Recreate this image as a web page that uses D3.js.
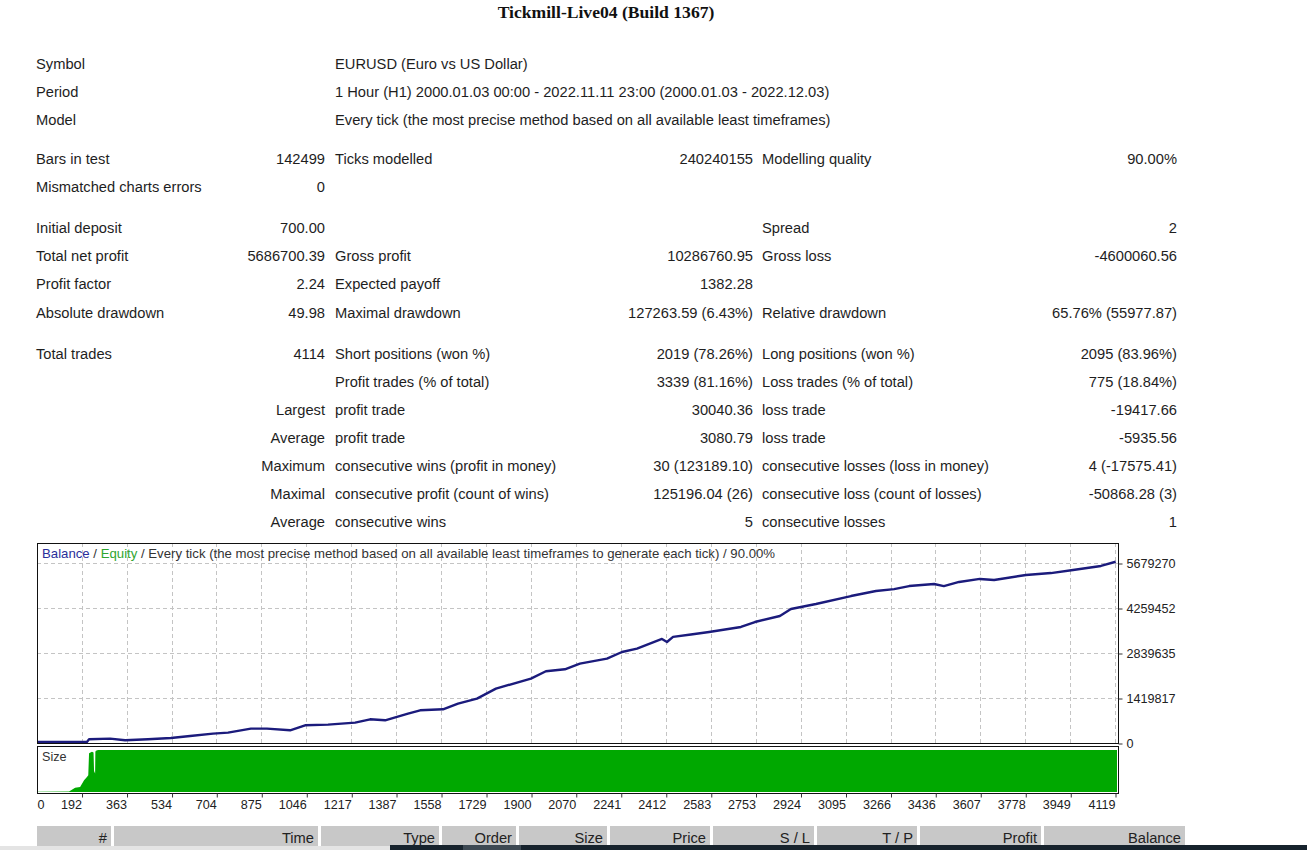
<!DOCTYPE html>
<html>
<head>
<meta charset="utf-8">
<script src="https://cdn.jsdelivr.net/npm/d3@7"></script>
<style>
body{margin:0;background:#ffffff;}
svg{display:block;}
</style>
</head>
<body>
<svg id="svgReport" width="1307" height="850"></svg>
<script>

var tituloReporte="Tickmill-Live04 (Build 1367)";

// filas del reporte: etiqueta, valor, etiqueta, valor, etiqueta, valor
var filasGrupo1=[
    ["Symbol","","EURUSD (Euro vs US Dollar)","","",""],
    ["Period","","1 Hour (H1) 2000.01.03 00:00 - 2022.11.11 23:00 (2000.01.03 - 2022.12.03)","","",""],
    ["Model","","Every tick (the most precise method based on all available least timeframes)","","",""]
];
var filasGrupo2=[
    ["Bars in test","142499","Ticks modelled","240240155","Modelling quality","90.00%"],
    ["Mismatched charts errors","0","","","",""]
];
var filasGrupo3=[
    ["Initial deposit","700.00","","","Spread","2"],
    ["Total net profit","5686700.39","Gross profit","10286760.95","Gross loss","-4600060.56"],
    ["Profit factor","2.24","Expected payoff","1382.28","",""],
    ["Absolute drawdown","49.98","Maximal drawdown","127263.59 (6.43%)","Relative drawdown","65.76% (55977.87)"]
];
var filasGrupo4=[
    ["Total trades","4114","Short positions (won %)","2019 (78.26%)","Long positions (won %)","2095 (83.96%)"],
    ["","","Profit trades (% of total)","3339 (81.16%)","Loss trades (% of total)","775 (18.84%)"],
    ["","Largest","profit trade","30040.36","loss trade","-19417.66"],
    ["","Average","profit trade","3080.79","loss trade","-5935.56"],
    ["","Maximum","consecutive wins (profit in money)","30 (123189.10)","consecutive losses (loss in money)","4 (-17575.41)"],
    ["","Maximal","consecutive profit (count of wins)","125196.04 (26)","consecutive loss (count of losses)","-50868.28 (3)"],
    ["","Average","consecutive wins","5","consecutive losses","1"]
];

// curva de balance (numero de trade, balance)
var balanceTrade=[0,150,205,213,293,350,437,524,597,684,741,828,889,977,1034,1121,1224,1281,1338,1425,1471,1558,1615,1687,1759,1892,1949,2021,2078,2181,2238,2295,2390,2409,2432,2500,2569,2690,2743,2838,2880,2975,3108,3203,3272,3329,3424,3461,3519,3598,3652,3773,3868,3952,4058,4114];
var balanceVal=[700,1500,3000,85000,107000,54000,85000,126000,189000,265000,297000,423000,423000,369000,527000,549000,612000,716000,685000,896000,1000000,1032000,1212000,1369000,1685000,2000000,2231000,2294000,2474000,2631000,2840000,2947000,3250000,3155000,3315000,3390000,3470000,3630000,3785000,3975000,4195000,4355000,4605000,4765000,4825000,4920000,4985000,4920000,5050000,5145000,5110000,5270000,5330000,5425000,5555000,5687400];

// tamanio de lote (numero de trade, lotes)
var sizeTrade=[0,137,160,179,194,205,210,213,224,230,232,236,237,239,247,4119];
var sizeLots=[0.3,0.6,5,6,14,18,20,46,48,47,25,22,48,49,50,50];

var ejeXTicks=[0,192,363,534,704,875,1046,1217,1387,1558,1729,1900,2070,2241,2412,2583,2753,2924,3095,3266,3436,3607,3778,3949,4119];
var ejeYTicks=[0,1419817,2839635,4259452,5679270];

var tituloGrafica=[
    {t:"Balance",c:"#2a2f9a"},
    {t:" / ",c:"#333333"},
    {t:"Equity",c:"#2fa52f"},
    {t:" / Every tick (the most precise method based on all available least timeframes to generate each tick) / 90.00%",c:"#333333"}
];

var columnasTabla=["#","Time","Type","Order","Size","Price","S / L","T / P","Profit","Balance"];
var anchoColumnas=[74,204,118,74,88,100,101,100,121,141];

var svg=d3.select("#svgReport");
var fuente="'Liberation Sans', Arial, sans-serif";
var tamanioFuente=14.7;

// titulo
svg.append("text")
    .attr("x",606)
    .attr("y",18)
    .style("font-family","'Liberation Serif', 'Times New Roman', serif")
    .style("font-weight","bold")
    .style("font-size","17.6px")
    .style("fill","#111111")
    .style("text-anchor","middle")
    .text(tituloReporte);

// tabla de estadisticas
var columnaX=[36,325,335,753,762,1177];
var columnaAnchor=["start","end","start","end","start","end"];
var grupos=[filasGrupo1,filasGrupo2,filasGrupo3,filasGrupo4];
var saltoGrupo=[0,11,24,37];
var fila=0;

for(var g=0; g < grupos.length; g++){
    for(var r=0; r < grupos[g].length; r++){
        var yFila=64+fila*28.05+saltoGrupo[g];
        for(var c=0; c < 6; c++){
            if(grupos[g][r][c]==="") continue;
            svg.append("text")
                .attr("class","statText")
                .attr("x",columnaX[c])
                .attr("y",yFila)
                .attr("dy","0.35em")
                .style("font-family",fuente)
                .style("font-size",tamanioFuente+"px")
                .style("fill","#1e1e1e")
                .style("text-anchor",columnaAnchor[c])
                .text(grupos[g][r][c]);
        }
        fila++;
    }
}

// grafica de balance
var izq=37, der=1118, arriba=543, abajo=743;
var sizeArriba=746, sizeAbajo=793;

var x=d3.scaleLinear().domain([0,4119]).range([33,1117]);
var y=d3.scaleLinear().domain([0,5679270]).range([743,563]);
var ySize=d3.scaleLinear().domain([0,50]).range([792,750]);

svg.append("clipPath").attr("id","clipMain")
    .append("rect").attr("x",izq).attr("y",arriba).attr("width",der-izq).attr("height",abajo-arriba);
svg.append("clipPath").attr("id","clipSize")
    .append("rect").attr("x",izq).attr("y",sizeArriba).attr("width",der-izq).attr("height",sizeAbajo-sizeArriba);

// rejilla
var rejilla=svg.append("g").attr("clip-path","url(#clipMain)");
rejilla.selectAll(".gridY").data(ejeYTicks.slice(1)).enter().append("line")
    .attr("x1",izq).attr("x2",der)
    .attr("y1",function(d){return y(d)+0.5;})
    .attr("y2",function(d){return y(d)+0.5;})
    .attr("stroke","#c4c4c4").attr("stroke-dasharray","4,3");
rejilla.selectAll(".gridX").data(ejeXTicks.slice(1)).enter().append("line")
    .attr("x1",function(d){return Math.round(x(d))-1.5;})
    .attr("x2",function(d){return Math.round(x(d))-1.5;})
    .attr("y1",arriba).attr("y2",abajo)
    .attr("stroke","#c4c4c4").attr("stroke-dasharray","4,3");

// linea de balance
var balanceData=balanceTrade.map(function(t,i){return [t,balanceVal[i]];});
var linea=d3.line().x(function(d){return x(d[0]);}).y(function(d){return y(d[1])-1;});

svg.append("path")
    .datum(balanceData)
    .attr("clip-path","url(#clipMain)")
    .attr("d",linea)
    .attr("fill","none")
    .attr("stroke","#1b1b7c")
    .attr("stroke-width",2.4)
    .attr("stroke-linejoin","round");

// area de lotes
var sizeData=sizeTrade.map(function(t,i){return [t,sizeLots[i]];});
var area=d3.area().x(function(d){return x(d[0]);}).y0(ySize(0)).y1(function(d){return ySize(d[1]);});

svg.append("path")
    .datum(sizeData)
    .attr("clip-path","url(#clipSize)")
    .attr("d",area)
    .attr("fill","#00a800");

// marcos
svg.append("rect").attr("x",izq+0.5).attr("y",arriba+0.5).attr("width",der-izq).attr("height",abajo-arriba)
    .attr("fill","none").attr("stroke","#111111");
svg.append("rect").attr("x",izq+0.5).attr("y",sizeArriba+0.5).attr("width",der-izq).attr("height",sizeAbajo-sizeArriba)
    .attr("fill","none").attr("stroke","#111111");

// titulo de la grafica
var tg=svg.append("text")
    .attr("x",42)
    .attr("y",553)
    .attr("dy","0.35em")
    .style("font-family",fuente)
    .style("font-size","13.2px");
tg.selectAll("tspan").data(tituloGrafica).enter().append("tspan")
    .style("fill",function(d){return d.c;})
    .text(function(d){return d.t;});

svg.append("text")
    .attr("x",42)
    .attr("y",757)
    .attr("dy","0.35em")
    .style("font-family",fuente)
    .style("font-size","12.6px")
    .style("fill","#333333")
    .text("Size");

// eje Y a la derecha
var ejeY=svg.append("g")
    .attr("transform","translate("+(der+0.5)+",0.5)")
    .call(d3.axisRight(y).tickValues(ejeYTicks).tickSize(4).tickPadding(4).tickFormat(d3.format("d")));
ejeY.select(".domain").remove();
ejeY.selectAll("text")
    .style("font-family",fuente)
    .style("font-size","12.6px")
    .style("fill","#222222");
ejeY.selectAll("line").attr("stroke","#333333");

// eje X debajo
var ejeX=svg.append("g")
    .attr("transform","translate(0,"+(sizeAbajo+0.5)+")")
    .call(d3.axisBottom(x).tickValues(ejeXTicks).tickSize(4).tickPadding(3).tickFormat(d3.format("d")));
ejeX.select(".domain").remove();
ejeX.selectAll("line").attr("stroke","#333333")
    .attr("transform","translate(-1.5,0)");
ejeX.selectAll("text")
    .style("font-family",fuente)
    .style("font-size","12.6px")
    .style("fill","#222222")
    .style("text-anchor","end")
    .attr("dx","-2px");
ejeX.selectAll(".tick").filter(function(d){return d===0;})
    .each(function(){
        d3.select(this).select("line").remove();
        d3.select(this).select("text").style("text-anchor","start").attr("dx","4px");
    });

// cabecera de la tabla de ordenes
var xCelda=37;
for(var i=0; i < columnasTabla.length; i++){
    svg.append("rect")
        .attr("x",xCelda)
        .attr("y",826)
        .attr("width",anchoColumnas[i])
        .attr("height",22)
        .attr("fill","#c8c8c8");
    svg.append("text")
        .attr("x",xCelda+anchoColumnas[i]-4)
        .attr("y",838)
        .attr("dy","0.35em")
        .style("font-family",fuente)
        .style("font-size",tamanioFuente+"px")
        .style("fill","#222222")
        .style("text-anchor","end")
        .text(columnasTabla[i]);
    xCelda+=anchoColumnas[i]+3;
}

// barra inferior de la captura
svg.append("rect").attr("x",0).attr("y",846).attr("width",390).attr("height",4).attr("fill","#e4e4e4");
svg.append("rect").attr("x",390).attr("y",845).attr("width",917).attr("height",5).attr("fill","#17232d");
svg.append("rect").attr("x",463).attr("y",845).attr("width",58).attr("height",5).attr("fill","#3d4953");

</script>
</body>
</html>
